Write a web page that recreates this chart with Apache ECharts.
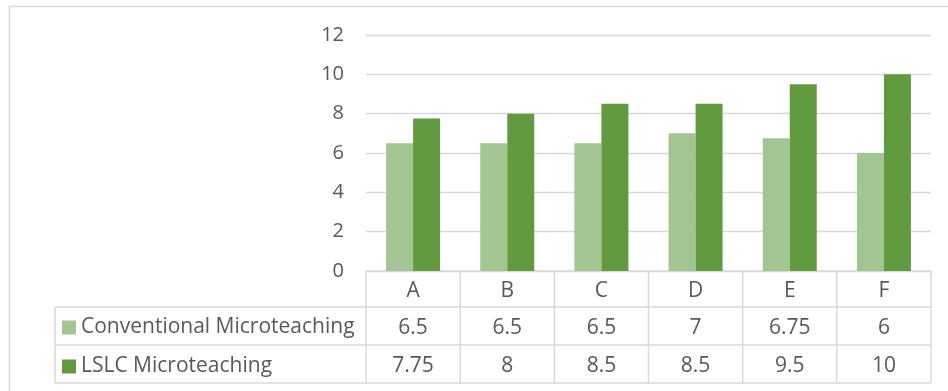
<!DOCTYPE html>
<html>
<head>
<meta charset="utf-8">
<script src="https://cdn.jsdelivr.net/npm/echarts@6/dist/echarts.min.js"></script>
<style>
  html, body { margin: 0; padding: 0; background: #fff; }
  #chart { width: 948px; height: 391px; }
</style>
</head>
<body>
<div id="chart"></div>
<script>
// Scores per group, shown as bars with a data table underneath
const categories = ['A', 'B', 'C', 'D', 'E', 'F'];
const seriesNames = ['Conventional Microteaching', 'LSLC Microteaching'];
const conventional = [6.5, 6.5, 6.5, 7, 6.75, 6];
const lslc = [7.75, 8, 8.5, 8.5, 9.5, 10];
const yTicks = [0, 2, 4, 6, 8, 10, 12];

const colors = ['#A3C591', '#629B3F'];
const textColor = '#595959';
const lineColor = '#D9D9D9';
const fontFamily = '"Open Sans", sans-serif';
const axisFontSize = 20;
const tableFontSize = 21;

const chart = echarts.init(document.getElementById('chart'), null, { renderer: 'canvas' });

const option = {
  animation: false,
  backgroundColor: '#fff',
  textStyle: { fontFamily: fontFamily, color: textColor },
  grid: { left: 366, right: 17, top: 35, bottom: 120, containLabel: false },
  legend: {
    orient: 'vertical',
    left: 62,
    top: 317,
    padding: 0,
    itemWidth: 14,
    itemHeight: 14,
    itemGap: 18,
    icon: 'rect',
    selectedMode: false,
    textStyle: { fontSize: tableFontSize, color: textColor, fontFamily: fontFamily, lineHeight: 20, padding: [0, 0, 0, 0] },
    data: seriesNames
  },
  xAxis: {
    type: 'category',
    data: categories,
    axisLine: { show: false },
    axisTick: { show: false },
    splitLine: { show: false },
    axisLabel: {
      margin: 1,
      interval: 0,
      formatter: function (value, idx) {
        return '{c|' + value + '}\n{c|' + conventional[idx] + '}\n{c|' + lslc[idx] + '}';
      },
      rich: {
        c: { fontSize: tableFontSize, lineHeight: 37.5, color: textColor, fontFamily: fontFamily, align: 'center' }
      }
    }
  },
  yAxis: {
    type: 'value',
    min: yTicks[0],
    max: yTicks[yTicks.length - 1],
    interval: yTicks[1] - yTicks[0],
    axisLine: { show: false },
    axisTick: { show: false },
    splitLine: { lineStyle: { color: lineColor, width: 1.3 } },
    axisLabel: { margin: 22, fontSize: axisFontSize, color: textColor, fontFamily: fontFamily }
  },
  series: [
    {
      name: seriesNames[0],
      type: 'bar',
      data: conventional,
      barWidth: 27,
      barGap: '0%',
      itemStyle: { color: colors[0] }
    },
    {
      name: seriesNames[1],
      type: 'bar',
      data: lslc,
      barWidth: 27,
      barGap: '0%',
      itemStyle: { color: colors[1] }
    }
  ]
};

chart.setOption(option);

// Data-table grid lines, placed from the category axis bands
function drawTable() {
  const y0 = chart.convertToPixel({ yAxisIndex: 0 }, 0);
  const c0 = chart.convertToPixel({ xAxisIndex: 0 }, categories[0]);
  const c1 = chart.convertToPixel({ xAxisIndex: 0 }, categories[1]);
  const band = c1 - c0;
  const xLeft = c0 - band / 2;
  const xRight = xLeft + band * categories.length;
  const headerH = 36, rowH = 38;
  const legendLeft = 55;
  const rowTop1 = y0 + headerH;
  const rowTop2 = rowTop1 + rowH;
  const bottom = rowTop2 + rowH;
  const ls = { stroke: lineColor, lineWidth: 1.5 };
  const els = [];
  const hline = (x1, x2, y) => els.push({ type: 'line', shape: { x1: x1, y1: y, x2: x2, y2: y }, style: ls, silent: true });
  const vline = (x, y1, y2) => els.push({ type: 'line', shape: { x1: x, y1: y1, x2: x, y2: y2 }, style: ls, silent: true });
  hline(xLeft, xRight, y0);
  hline(legendLeft, xRight, rowTop1);
  hline(legendLeft, xRight, rowTop2);
  hline(legendLeft, xRight, bottom);
  vline(legendLeft, rowTop1, bottom);
  for (let i = 0; i <= categories.length; i++) {
    vline(xLeft + band * i, y0, bottom);
  }
  // outer chart frame
  els.push({ type: 'rect', shape: { x: 9.5, y: 6.5, width: 1000, height: 500 }, style: { fill: null, stroke: lineColor, lineWidth: 1.5 }, silent: true, z: -1 });
  chart.setOption({ graphic: els });
}
drawTable();
</script>
</body>
</html>
